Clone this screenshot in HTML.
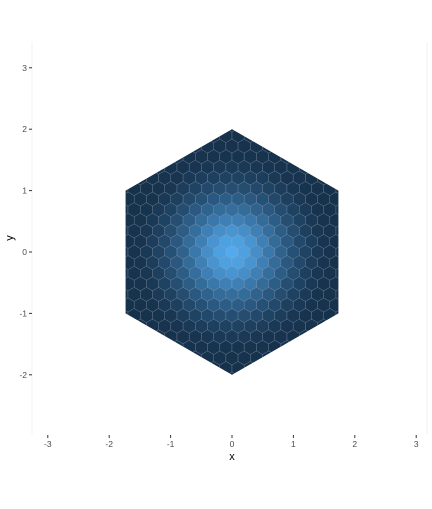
<!DOCTYPE html>
<html><head><meta charset="utf-8"><style>
body{margin:0;background:#fff;font-family:"Liberation Sans",sans-serif}
text{font-family:"Liberation Sans",sans-serif}
</style></head><body>
<svg id="chart" width="432" height="504" viewBox="0 0 432 504">
<defs><clipPath id="bigHex"><polygon id="clipPoly"/></clipPath></defs>
<line x1="32" y1="42" x2="32" y2="434" stroke="#f2f2f2"/>
<line x1="427" y1="42" x2="427" y2="434" stroke="#f2f2f2"/>
<g id="cells" clip-path="url(#bigHex)"></g>
<g id="axes"></g>
<text x="232" y="460" font-size="11" text-anchor="middle" fill="#000">x</text>
<text x="13" y="238" font-size="11" text-anchor="middle" fill="#000" transform="rotate(-90 13 238)">y</text>
</svg>
<script>
const xTicks=[-3,-2,-1,0,1,2,3];
const yTicks=[-2,-1,0,1,2,3];
const distStops=[0,0.25,0.5,0.75,1,1.25,1.5,2.2];
const intensity=[0.95,0.86,0.66,0.45,0.28,0.15,0.07,0.02];
const outerRadius=2;
const cellRadius=0.115;
const NS="http://www.w3.org/2000/svg";
const sx=v=>232+v*61.4, sy=v=>252-v*61.4;
const cells=document.getElementById('cells');
const axes=document.getElementById('axes');
let pts=[];
for(let k=0;k<6;k++){const a=Math.PI/2+k*Math.PI/3;pts.push(sx(outerRadius*Math.cos(a))+','+sy(outerRadius*Math.sin(a)));}
document.getElementById('clipPoly').setAttribute('points',pts.join(' '));
const bg=document.createElementNS(NS,'polygon');
bg.setAttribute('points',pts.join(' '));bg.setAttribute('fill','#132B43');


cells.appendChild(bg);
function interp(d){
  for(let i=0;i<distStops.length-1;i++){if(d<=distStops[i+1]){const t=(d-distStops[i])/(distStops[i+1]-distStops[i]);return intensity[i]+t*(intensity[i+1]-intensity[i]);}}
  return intensity[intensity.length-1];
}
function col(t){const a=[19,43,67],b=[86,177,247];return 'rgb('+a.map((v,i)=>Math.round(v+(b[i]-v)*t)).join(',')+')';}
const w=Math.sqrt(3)*cellRadius, h=1.5*cellRadius;
for(let row=-14;row<=14;row++){
  for(let c=-12;c<=12;c++){
    const cx=c*w+(row%2?w/2:0), cy=row*h;
    if(Math.abs(cx)>1.85||Math.abs(cy)>2.1)continue;
    const d=Math.hypot(cx,cy);
    let p=[];
    for(let k=0;k<6;k++){const a=Math.PI/2+k*Math.PI/3;p.push(sx(cx+cellRadius*Math.cos(a)).toFixed(1)+','+sy(cy+cellRadius*Math.sin(a)).toFixed(1));}
    const el=document.createElementNS(NS,'polygon');
    el.setAttribute('points',p.join(' '));
    el.setAttribute('fill',col(interp(d)));
    el.setAttribute('stroke','rgba(170,180,195,0.45)');
    el.setAttribute('stroke-width','0.5');
    
    
    cells.appendChild(el);
  }
}
xTicks.forEach(v=>{
  const l=document.createElementNS(NS,'line');
  l.setAttribute('x1',sx(v));l.setAttribute('x2',sx(v));l.setAttribute('y1',435);l.setAttribute('y2',438);l.setAttribute('stroke','#333');
  
  
  axes.appendChild(l);
  const t=document.createElementNS(NS,'text');
  t.setAttribute('x',sx(v));t.setAttribute('y',447);t.setAttribute('font-size','8.5');t.setAttribute('text-anchor','middle');t.setAttribute('fill','#4d4d4d');
  t.textContent=v;
  
  
  axes.appendChild(t);
});
yTicks.forEach(v=>{
  const l=document.createElementNS(NS,'line');
  l.setAttribute('x1',29);l.setAttribute('x2',32);l.setAttribute('y1',sy(v));l.setAttribute('y2',sy(v));l.setAttribute('stroke','#333');
  
  
  axes.appendChild(l);
  const t=document.createElementNS(NS,'text');
  t.setAttribute('x',27);t.setAttribute('y',sy(v)+3);t.setAttribute('font-size','8.5');t.setAttribute('text-anchor','end');t.setAttribute('fill','#4d4d4d');
  t.textContent=v;
  
  
  axes.appendChild(t);
});
</script>
</body></html>
